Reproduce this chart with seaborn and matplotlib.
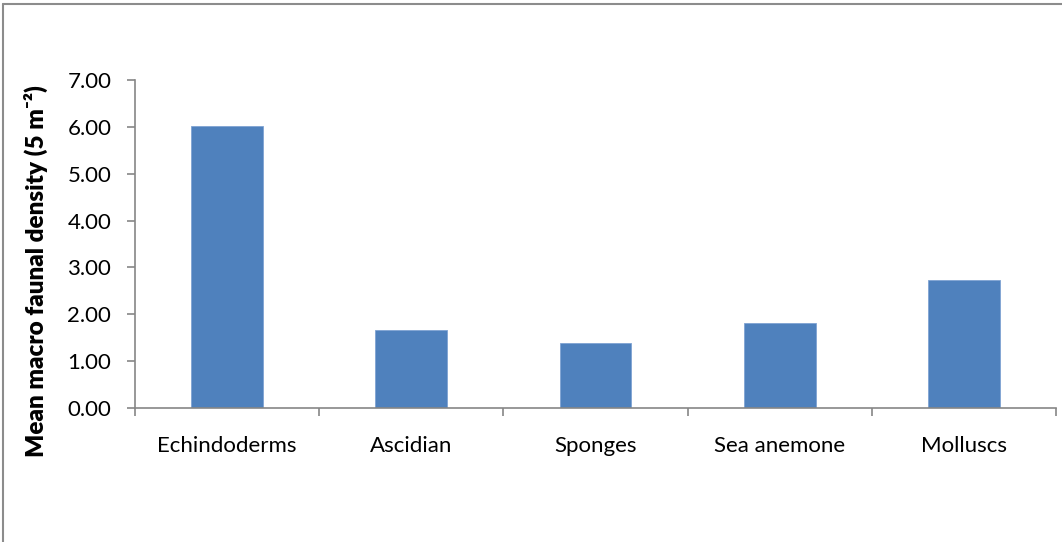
import matplotlib
matplotlib.use("Agg")
import matplotlib.pyplot as plt
from matplotlib.lines import Line2D
from matplotlib.ticker import FixedLocator, NullFormatter
import seaborn as sns
import pandas as pd

# Mean macrofaunal density per taxon group
groups = ["Echindoderms", "Ascidian", "Sponges", "Sea anemone", "Molluscs"]
density = [6.02, 1.66, 1.39, 1.82, 2.74]
y_ticks = [0, 1, 2, 3, 4, 5, 6, 7]

sns.set_theme(style="white")
plt.rcParams["font.family"] = ["Lato", "DejaVu Sans"]

df = pd.DataFrame({"group": groups, "density": density})

fig = plt.figure(figsize=(10.62, 5.42), dpi=100)
ax = fig.add_axes([0.127, 0.2472, 0.8675, 0.6052])

sns.barplot(data=df, x="group", y="density", color="#4F81BD", saturation=1,
            width=0.39, edgecolor="#7FA3D3", linewidth=0.6, ax=ax)

ax.set_xlim(-0.5, len(groups) - 0.5)
ax.set_ylim(0, 7)
ax.set_yticks(y_ticks)
ax.set_yticklabels([f"{v:.2f}" for v in y_ticks])

# category separators as outward ticks on the x axis
ax.xaxis.set_minor_locator(FixedLocator([i - 0.5 for i in range(len(groups) + 1)]))
ax.xaxis.set_minor_formatter(NullFormatter())
ax.tick_params(axis="x", which="major", length=0, pad=20, labelsize=16, colors="black")
ax.tick_params(axis="x", which="minor", bottom=True, length=6, width=1.2, color="#868686",
               direction="out")
ax.tick_params(axis="y", which="major", left=True, length=6, width=1.2, color="#868686",
               direction="out", pad=11, labelsize=16, labelcolor="black")

for side in ["top", "right"]:
    ax.spines[side].set_visible(False)
for side in ["left", "bottom"]:
    ax.spines[side].set_color("#868686")
    ax.spines[side].set_linewidth(1.2)

ax.set_xlabel("")
ax.set_ylabel("Mean macro faunal density (5 m\u207b\u00b2)", fontsize=17.5,
              fontweight="heavy", color="black")
ax.yaxis.set_label_coords(-0.094, 0.418)

# outer chart frame (top and left edges)
fig.add_artist(Line2D([0.003, 1.0], [0.993, 0.993], transform=fig.transFigure,
                      color="#8c8c8c", linewidth=1.5))
fig.add_artist(Line2D([0.003, 0.003], [0.0, 0.993], transform=fig.transFigure,
                      color="#8c8c8c", linewidth=1.5))

fig.savefig("out.png", dpi=100)
